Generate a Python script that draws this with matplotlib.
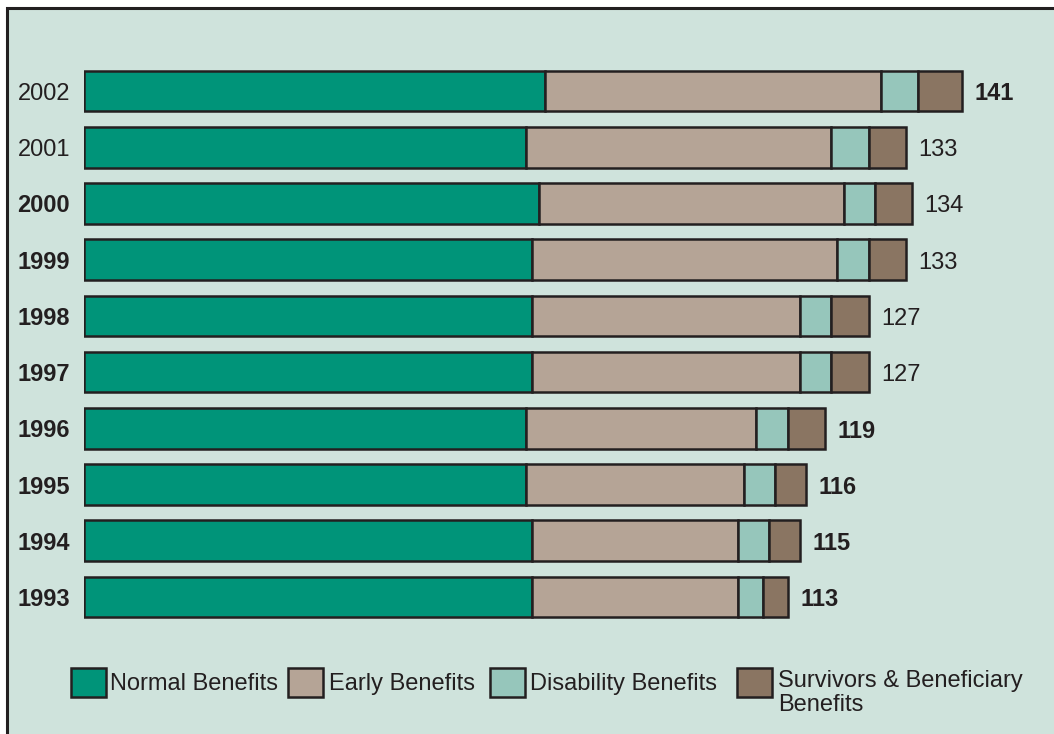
import matplotlib.pyplot as plt
from matplotlib.patches import Rectangle

plt.rcParams['font.family'] = ['Liberation Sans', 'DejaVu Sans']

years = ['1993', '1994', '1995', '1996', '1997', '1998', '1999', '2000', '2001', '2002']
normal = [72, 72, 71, 71, 72, 72, 72, 73, 71, 74]
early = [33, 33, 35, 37, 43, 43, 49, 49, 49, 54]
disability = [4, 5, 5, 5, 5, 5, 5, 5, 6, 6]
survivors = [4, 5, 5, 6, 6, 6, 6, 6, 6, 7]
totals = [113, 115, 116, 119, 127, 127, 133, 134, 133, 141]

series_names = ['Normal Benefits', 'Early Benefits', 'Disability Benefits',
                'Survivors & Beneficiary\nBenefits']
colors = ['#009479', '#b5a496', '#96c6bb', '#8a7562']
edge = '#231f20'
bg = '#cfe3dc'

# which labels are bold in the original
year_bold = [True] * 8 + [False, False]
total_bold = [True, True, True, True, False, False, False, False, False, True]

fig = plt.figure(figsize=(10.54, 7.34), dpi=100, facecolor='white')

# panel with border on left and top
fig.add_artist(Rectangle((7 / 1054, -0.1), 1.2, (734 - 8) / 734 + 0.1,
                         transform=fig.transFigure, facecolor=bg,
                         edgecolor=edge, linewidth=2.2, zorder=0))

ax = fig.add_axes([84 / 1054, 1 - 625 / 734, 934 / 1054, 562 / 734])
ax.set_facecolor('none')

y = list(range(len(years)))
left = [0] * len(years)
for vals, col in zip([normal, early, disability, survivors], colors):
    ax.barh(y, vals, left=left, height=0.72, color=col, edgecolor=edge, linewidth=1.8)
    left = [l + v for l, v in zip(left, vals)]

for i in y:
    ax.text(left[i] + 2, i - 0.05, str(totals[i]), va='center', ha='left', fontsize=17,
            color=edge, fontweight='bold' if total_bold[i] else 'normal')

ax.set_xlim(0, 150)
ax.set_ylim(-0.5, len(years) - 0.5)
ax.set_yticks(y)
ax.set_yticklabels(years, fontsize=17, color=edge)
for lbl, b in zip(ax.get_yticklabels(), year_bold):
    lbl.set_fontweight('bold' if b else 'normal')
ax.tick_params(axis='y', length=0, pad=10)
ax.set_xticks([])
for s in ax.spines.values():
    s.set_visible(False)

# legend drawn by hand to match the layout
box_x = [71, 288, 490, 737]
text_x = [110, 329, 530, 778]
for bx, tx, col, name in zip(box_x, text_x, colors, series_names):
    fig.add_artist(Rectangle((bx / 1054, 1 - 697 / 734), 35 / 1054, 29 / 734,
                             transform=fig.transFigure, facecolor=col,
                             edgecolor=edge, linewidth=1.8))
    fig.text(tx / 1054, 1 - 684 / 734, name, fontsize=17, color=edge,
             ha='left', va='top' if '\n' in name else 'center',
             linespacing=1.1)

# shift multi-line legend text so first line aligns with the others
fig.texts[-1].set_position((778 / 1054, 1 - 670 / 734))

plt.savefig('out.png', dpi=100, facecolor=fig.get_facecolor())
